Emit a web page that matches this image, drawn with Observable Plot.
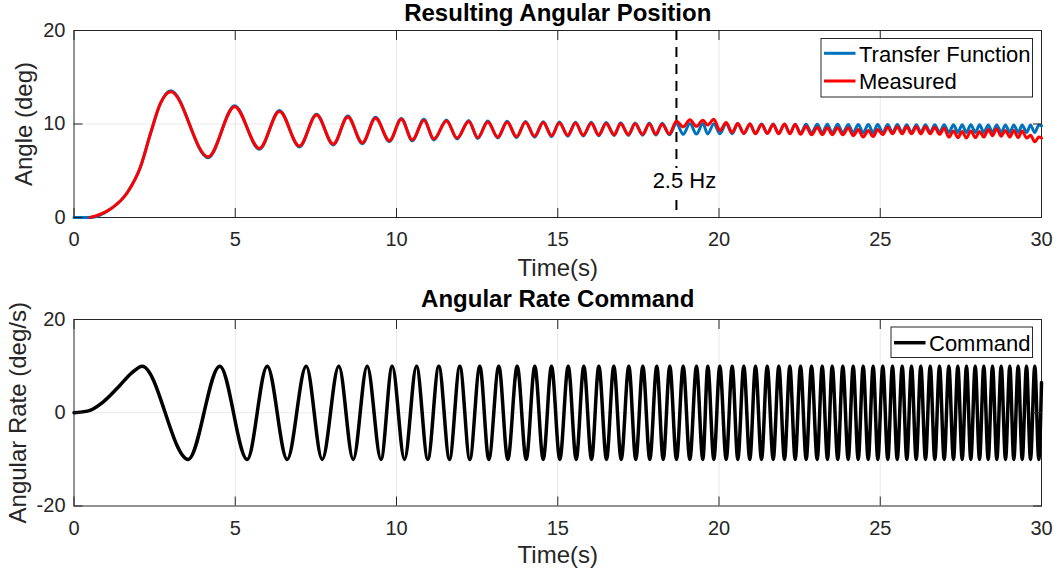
<!DOCTYPE html>
<html>
<head>
<meta charset="utf-8">
<script src="https://cdn.jsdelivr.net/npm/d3@7"></script>
<script src="https://cdn.jsdelivr.net/npm/@observablehq/plot@0.6"></script>
<style>
  html, body { margin: 0; padding: 0; background: #fff; }
  #fig { position: relative; width: 1054px; height: 577px; overflow: hidden;
         font-family: "Liberation Sans", Arial, Helvetica, sans-serif; }
  #fig > svg { position: absolute; left: 0; }
</style>
</head>
<body>
<div id="fig"></div>
<script>
// ---------- axes ----------
const xTicks = [0, 5, 10, 15, 20, 25, 30];
const angleTicks = [0, 10, 20];
const rateTicks = [-20, 0, 20];
const markerTime = 18.68;
const markerLabel = "2.5 Hz";

// ---------- angular position response (deg) ----------
// transfer-function model sits at zero before the step response starts
const tfLeadTime = [0];
const tfLeadAngle = [0];
// initial rise (shared by both series)
const riseTime = [0.5, 1.13, 1.66, 2.06, 2.37, 2.68];
const riseAngle = [0, 0.9, 2.7, 5.4, 8.95, 12.2];

// turning points of the oscillating response (s)
const respPeakTime = [3.00, 4.98, 6.37, 7.52, 8.49, 9.35, 10.15, 10.85, 11.55, 12.24,
  12.83, 13.43, 14.00, 14.55, 15.05, 15.55, 16.04, 16.50, 16.95, 17.40,
  17.84, 18.24, 18.68, 19.10, 19.50, 19.84, 20.22, 20.58, 20.96, 21.32,
  21.68, 22.03, 22.36, 22.70, 23.05, 23.36, 23.68, 24.01, 24.32, 24.63,
  24.92, 25.23, 25.53, 25.82, 26.12, 26.40, 26.69, 26.98, 27.27, 27.54,
  27.81, 28.08, 28.35, 28.61, 28.88, 29.14, 29.40, 29.66, 29.92];
const respTroughTime = [4.16, 5.75, 6.99, 8.04, 8.94, 9.78, 10.49, 11.16, 11.88, 12.52,
  13.14, 13.72, 14.28, 14.81, 15.31, 15.79, 16.27, 16.75, 17.19, 17.63,
  18.04, 18.46, 18.89, 19.30, 19.65, 20.03, 20.41, 20.77, 21.13, 21.50,
  21.85, 22.20, 22.53, 22.87, 23.20, 23.51, 23.84, 24.16, 24.47, 24.78,
  25.08, 25.38, 25.68, 25.97, 26.26, 26.55, 26.84, 27.13, 27.41, 27.67,
  27.95, 28.21, 28.48, 28.75, 29.02, 29.28, 29.54, 29.79];

const tfPeakAngle = [13.55, 11.95, 11.45, 11.05, 10.85, 10.72, 10.60, 10.50, 10.42, 10.38,
  10.32, 10.30, 10.28, 10.25, 10.22, 10.20, 10.18, 10.16, 10.14, 10.12,
  10.10, 10.08, 10.06, 10.05, 10.05, 10.04, 10.03, 10.02, 10.00, 10.00,
  10.00, 9.98, 9.98, 9.97, 9.97, 9.96, 9.96, 9.95, 9.95, 9.95,
  9.94, 9.94, 9.94, 9.93, 9.93, 9.93, 9.92, 9.92, 9.92, 9.91,
  9.91, 9.91, 9.90, 9.90, 9.90, 9.90, 9.90, 9.90, 9.90];
const tfTroughAngle = [6.40, 7.30, 7.55, 7.75, 7.90, 8.12, 8.20, 8.30, 8.40, 8.45,
  8.50, 8.55, 8.60, 8.65, 8.70, 8.72, 8.74, 8.76, 8.78, 8.80,
  8.82, 8.84, 8.90, 8.92, 8.94, 8.95, 8.96, 8.97, 8.98, 8.99,
  9.00, 9.01, 9.02, 9.03, 9.04, 9.05, 9.05, 9.06, 9.06, 9.07,
  9.07, 9.08, 9.08, 9.08, 9.09, 9.09, 9.09, 9.10, 9.10, 9.10,
  9.10, 9.10, 9.10, 9.10, 9.10, 9.10, 9.10, 9.10];
const tfEndTime = 30, tfEndAngle = 9.8;

const measPeakAngle = [13.45, 11.85, 11.35, 10.95, 10.75, 10.62, 10.50, 10.40, 10.32, 10.28,
  10.22, 10.20, 10.18, 10.15, 10.12, 10.10, 10.08, 10.06, 10.04, 10.02,
  10.00, 9.98, 10.30, 10.45, 10.40, 10.50, 10.15, 10.05, 10.00, 9.95,
  9.95, 10.00, 9.95, 9.75, 9.65, 9.60, 9.60, 9.60, 9.40, 9.30,
  9.40, 9.65, 9.70, 9.70, 9.70, 9.70, 9.65, 9.55, 9.25, 9.20,
  9.25, 9.20, 9.40, 9.50, 9.30, 9.30, 9.25, 8.80, 8.60];
const measTroughAngle = [6.50, 7.40, 7.65, 7.85, 8.00, 8.22, 8.30, 8.40, 8.50, 8.55,
  8.60, 8.65, 8.70, 8.75, 8.80, 8.82, 8.84, 8.86, 8.88, 8.90,
  8.92, 8.94, 9.70, 9.75, 9.90, 9.30, 9.10, 9.00, 8.95, 9.00,
  8.95, 8.95, 8.90, 8.85, 8.85, 8.85, 8.85, 8.75, 8.60, 8.65,
  8.85, 8.95, 8.95, 8.95, 8.95, 8.95, 8.90, 8.60, 8.55, 8.50,
  8.55, 8.60, 8.75, 8.70, 8.60, 8.55, 8.50, 8.10];
const measEndTime = 30, measEndAngle = 8.5;

// ---------- angular rate command (deg/s) ----------
const cmdStartTime = [0, 0.45, 0.9, 1.4, 1.8];
const cmdStartRate = [0, 0.4, 2.3, 5.7, 8.6];
const cmdAmplitude = 10;
const cmdPeakTime = [2.115, 4.521, 5.991, 7.200, 8.211, 9.091, 9.867, 10.620, 11.312, 11.963,
  12.583, 13.172, 13.743, 14.288, 14.806, 15.324, 15.808, 16.273, 16.738, 17.203,
  17.638, 18.071, 18.474, 18.890, 19.302, 19.653, 20.025, 20.409, 20.769, 21.132,
  21.495, 21.854, 22.195, 22.527, 22.868, 23.200, 23.510, 23.839, 24.161, 24.471,
  24.781, 25.079, 25.380, 25.681, 25.969, 26.257, 26.549, 26.837, 27.126, 27.405,
  27.674, 27.945, 28.211, 28.481, 28.750, 29.017, 29.277, 29.535, 29.792];
const cmdTroughTime = [3.541, 5.371, 6.611, 7.696, 8.657, 9.519, 10.248, 10.971, 11.643, 12.273,
  12.862, 13.451, 14.022, 14.549, 15.064, 15.572, 16.047, 16.512, 16.967, 17.420,
  17.854, 18.270, 18.682, 19.095, 19.498, 19.839, 20.223, 20.583, 20.955, 21.318,
  21.681, 22.031, 22.363, 22.704, 23.045, 23.364, 23.684, 24.006, 24.316, 24.626,
  24.924, 25.234, 25.526, 25.824, 26.115, 26.403, 26.692, 26.983, 27.271, 27.541,
  27.808, 28.078, 28.347, 28.614, 28.884, 29.141, 29.402, 29.659, 29.916];
const cmdEndTime = 30, cmdEndRate = 6.5;

// ---------- build point tables ----------
const pts = (ts, vs) => ts.map((t, i) => ({t, v: vs[i]}));
const byTime = (a, b) => a.t - b.t;

const tfData = [
  ...pts(tfLeadTime, tfLeadAngle),
  ...pts(riseTime, riseAngle),
  ...pts(respPeakTime, tfPeakAngle),
  ...pts(respTroughTime, tfTroughAngle),
  {t: tfEndTime, v: tfEndAngle}
].sort(byTime);

const measData = [
  ...pts(riseTime, riseAngle),
  ...pts(respPeakTime, measPeakAngle),
  ...pts(respTroughTime, measTroughAngle),
  {t: measEndTime, v: measEndAngle}
].sort(byTime);

const cmdData = [
  ...pts(cmdStartTime, cmdStartRate),
  ...cmdPeakTime.map(t => ({t, v: cmdAmplitude})),
  ...cmdTroughTime.map(t => ({t, v: -cmdAmplitude})),
  {t: cmdEndTime, v: cmdEndRate}
].sort(byTime);

// ---------- shared styling ----------
const FONT = "Liberation Sans, Arial, Helvetica, sans-serif";
const AXIS_COLOR = "#262626";
const fmt = d => String(d);
const centered = {textAnchor: "middle", lineAnchor: "middle"};

function axesMarks(yTicks) {
  return [
    Plot.gridX(xTicks.slice(1, -1), {stroke: AXIS_COLOR, strokeOpacity: 0.1, strokeWidth: 1}),
    Plot.gridY(yTicks.slice(1, -1), {stroke: AXIS_COLOR, strokeOpacity: 0.1, strokeWidth: 1}),
    Plot.frame({stroke: AXIS_COLOR, strokeWidth: 1})
  ];
}
function tickMarks(yTicks) {
  return [
    Plot.axisX(xTicks, {anchor: "bottom", tickSize: -9, tickPadding: 23.5, tickFormat: fmt,
      fontSize: 20, label: null}),
    Plot.axisX(xTicks, {anchor: "top", tickSize: -9, tickFormat: () => "", label: null}),
    Plot.axisY(yTicks, {anchor: "left", tickSize: -9, tickPadding: 17.5, tickFormat: fmt,
      fontSize: 20, label: null}),
    Plot.axisY(yTicks, {anchor: "right", tickSize: -9, tickFormat: () => "", label: null})
  ];
}

// ---------- top panel: resulting angular position ----------
const topPlot = Plot.plot({
  width: 1054, height: 288,
  marginTop: 30, marginBottom: 71, marginLeft: 73.5, marginRight: 13,
  x: {domain: [0, 30]},
  y: {domain: [0, 20]},
  style: {fontFamily: FONT, color: AXIS_COLOR, background: "transparent", overflow: "visible"},
  marks: [
    ...axesMarks(angleTicks),
    Plot.ruleX([markerTime], {stroke: "#000", strokeWidth: 2, strokeDasharray: "10,7"}),
    Plot.line(tfData, {x: "t", y: "v", stroke: "#0072BD", strokeWidth: 3, curve: "monotone-x"}),
    Plot.line(measData, {x: "t", y: "v", stroke: "#FF0000", strokeWidth: 3, curve: "monotone-x"}),
    Plot.text([markerLabel], {x: () => markerTime, frameAnchor: "bottom", ...centered, dy: -37, dx: 8,
      fontSize: 22, fill: "#000", stroke: "#fff", strokeWidth: 10, paintOrder: "stroke"}),
    ...tickMarks(angleTicks),
    Plot.text(["Resulting Angular Position"], {frameAnchor: "top", ...centered, dy: -16.7, fontSize: 24,
      fontWeight: "bold", fill: "#000"}),
    Plot.text(["Time(s)"], {frameAnchor: "bottom", ...centered, dy: 51.3, fontSize: 24, fill: AXIS_COLOR}),
    Plot.text(["Angle (deg)"], {frameAnchor: "left", ...centered, dx: -49.2, rotate: -90,
      fontSize: 24, fill: AXIS_COLOR})
  ]
});

// ---------- bottom panel: angular rate command ----------
const bottomPlot = Plot.plot({
  width: 1054, height: 289,
  marginTop: 31, marginBottom: 71.5, marginLeft: 73.5, marginRight: 13,
  x: {domain: [0, 30]},
  y: {domain: [-20, 20]},
  style: {fontFamily: FONT, color: AXIS_COLOR, background: "transparent", overflow: "visible"},
  marks: [
    ...axesMarks(rateTicks),
    Plot.line(cmdData, {x: "t", y: "v", stroke: "#000", strokeWidth: 3.5, curve: "monotone-x"}),
    ...tickMarks(rateTicks),
    Plot.text(["Angular Rate Command"], {frameAnchor: "top", ...centered, dy: -19.7, fontSize: 24,
      fontWeight: "bold", fill: "#000"}),
    Plot.text(["Time(s)"], {frameAnchor: "bottom", ...centered, dy: 49.8, fontSize: 24, fill: AXIS_COLOR}),
    Plot.text(["Angular Rate (deg/s)"], {frameAnchor: "left", ...centered, dx: -55.7, rotate: -90,
      fontSize: 24, fill: AXIS_COLOR})
  ]
});

const fig = document.getElementById("fig");
topPlot.style.top = "0px";
bottomPlot.style.top = "288px";
fig.appendChild(topPlot);
fig.appendChild(bottomPlot);

// ---------- legends ----------
const legendLayer = d3.create("svg")
  .attr("width", 1054).attr("height", 577)
  .style("top", "0px")
  .style("font-family", FONT);

function legend(box, items) {
  const g = legendLayer.append("g");
  g.append("rect")
    .attr("x", box.x + 0.5).attr("y", box.y + 0.5)
    .attr("width", box.w).attr("height", box.h)
    .attr("fill", "#fff").attr("stroke", AXIS_COLOR).attr("stroke-width", 1);
  items.forEach(it => {
    g.append("line")
      .attr("x1", box.x + 3.5).attr("x2", box.x + 35)
      .attr("y1", it.cy).attr("y2", it.cy)
      .attr("stroke", it.color).attr("stroke-width", it.width);
    g.append("text")
      .attr("x", box.x + 38.5).attr("y", it.baseline)
      .attr("font-size", 22).attr("fill", "#000")
      .text(it.label);
  });
}
legend({x: 820.5, y: 38, w: 211.5, h: 58.5}, [
  {label: "Transfer Function", color: "#0072BD", width: 3, cy: 53.3, baseline: 61.7},
  {label: "Measured", color: "#FF0000", width: 3, cy: 81, baseline: 89.3}
]);
legend({x: 890.5, y: 326.5, w: 141.5, h: 30.5}, [
  {label: "Command", color: "#000", width: 3.5, cy: 342.7, baseline: 351}
]);
fig.appendChild(legendLayer.node());
</script>
</body>
</html>
